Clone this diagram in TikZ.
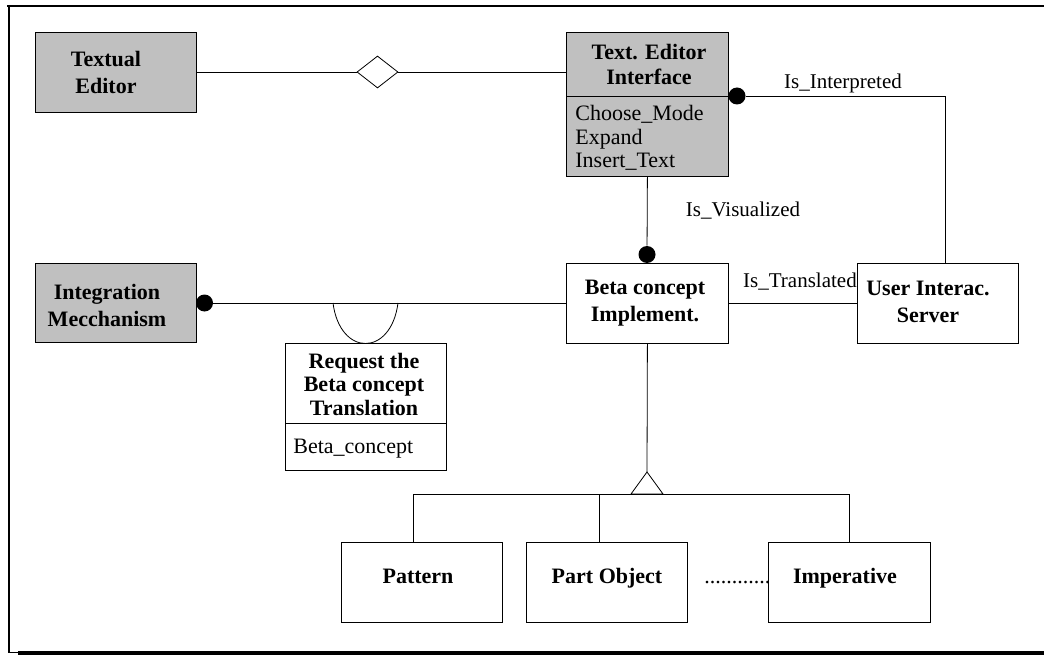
\documentclass[tikz,border=0pt]{standalone}
\usepackage{fontspec}
\setmainfont{Liberation Serif}
\usetikzlibrary{shapes.geometric}
\definecolor{boxgray}{HTML}{C0C0C0}
\begin{document}
\begin{tikzpicture}[x=1pt,y=-1pt,
  line width=0.8pt,
  classbox/.style={draw, anchor=north west, inner sep=0pt, rectangle},
  shaded/.style={fill=boxgray},
  title/.style={font=\fontsize{22}{27}\selectfont\bfseries, align=center, inner sep=0pt},
  tighttitle/.style={title, font=\fontsize{22}{23.5}\selectfont\bfseries},
  single/.style={title, anchor=base},
  attr/.style={font=\fontsize{22}{23.5}\selectfont, align=left, inner sep=0pt},
  role/.style={font=\fontsize{21}{23}\selectfont, inner sep=0pt, anchor=base},
  dot/.style={circle, fill=black, inner sep=0pt, minimum size=17pt},
]
\useasboundingbox (0,0) rectangle (1044,655);

% page frame
\draw[line width=2.7pt] (7,6) -- (1044,6);
\draw[line width=2pt] (9,5) -- (9,652.5);
\draw[line width=0.8pt] (9,652.5) -- (18,652.5);
\draw[line width=4.2pt] (18,653) -- (1044,653);

% classes
\node[classbox, shaded, minimum width=161pt, minimum height=80pt] (te) at (35,32) {};
\node[title] (teT) at (106,72) {Textual\\Editor};

\node[classbox, shaded, minimum width=162pt, minimum height=144pt] (tei) at (566,32) {};
\coordinate (teisep) at (647,96);
\draw (tei.west |- teisep) -- (tei.east |- teisep);
\node[title, font=\fontsize{22}{25}\selectfont\bfseries] (teiT) at (649,64.5) {Text. Editor\\Interface};
\node[attr, anchor=north west] (teiA) at (575,105) {Choose\_Mode\\Expand\\Insert\_Text};

\node[classbox, shaded, minimum width=161pt, minimum height=79pt] (im) at (35,263) {};
\node[title] (imT) at (107,305) {Integration\\Mecchanism};

\node[classbox, minimum width=162pt, minimum height=80pt] (bc) at (566,263) {};
\node[title] (bcT) at (645,303) {Beta concept\\Implement.};

\node[classbox, minimum width=161pt, minimum height=80pt] (ui) at (857,263) {};
\node[title] (uiT) at (928,302) {User Interac.\\Server};

\node[classbox, minimum width=161pt, minimum height=127pt] (rq) at (285,343) {};
\coordinate (rqsep) at (365,423);
\draw (rq.west |- rqsep) -- (rq.east |- rqsep);
\node[tighttitle] (rqT) at (364,384) {Request the\\Beta concept\\Translation};
\node[attr, anchor=base west] (rqA) at (293,453) {Beta\_concept};

\node[classbox, minimum width=161pt, minimum height=80pt] (pt) at (341,542) {};
\node[single] (ptT) at (418,583) {Pattern};
\node[classbox, minimum width=161pt, minimum height=80pt] (po) at (526,542) {};
\node[single] (poT) at (607,583) {Part Object};
\node[classbox, minimum width=162pt, minimum height=80pt] (ip) at (768,542) {};
\node[single] (ipT) at (845,583) {Imperative};
\node[attr, anchor=base west] (etc) at (704,583) {............};

% aggregation between the two editors
\node[diamond, draw, fill=white, inner sep=0pt, minimum width=41pt, minimum height=32pt] (agg) at (377.5,72) {};
\draw (te.east |- agg) -- (agg.west);
\draw (agg.east) -- (tei.west |- agg);

% Is_Interpreted
\node[dot] (d1) at (737,96) {};
\coordinate (bend) at (945,96);
\draw (d1) -- (bend) -- (bend |- ui.north);
\node[role] (l1) at (843,89) {Is\_Interpreted};

% Is_Visualized
\node[dot] (d2) at (647,254.5) {};
\draw (tei.south) -- (d2);
\node[role] (l2) at (743,217) {Is\_Visualized};

% Is_Translated
\draw (bc.east) -- (ui.west);
\node[role] (l3) at (800,287) {Is\_Translated};

% integration link with the requested interface
\node[dot] (d3) at (204.5,303) {};
\draw (d3) -- (bc.west |- d3);
\coordinate (cupL) at (333,303);
\coordinate (cupR) at (398,303);
\draw (cupL) .. controls (340,357) and (391,357) .. (cupR);

% generalization
\coordinate (apex) at (647,472);
\draw (bc.south) -- (apex);
\draw[fill=white] (apex) -- (631,494) -- (663,494) -- cycle;
\coordinate (barL) at (413,494);
\coordinate (barM) at (599,494);
\coordinate (barR) at (849,494);
\draw (barL) -- (barR);
\draw (barL) -- (barL |- pt.north);
\draw (barM) -- (barM |- po.north);
\draw (barR) -- (barR |- ip.north);
\end{tikzpicture}
\end{document}
